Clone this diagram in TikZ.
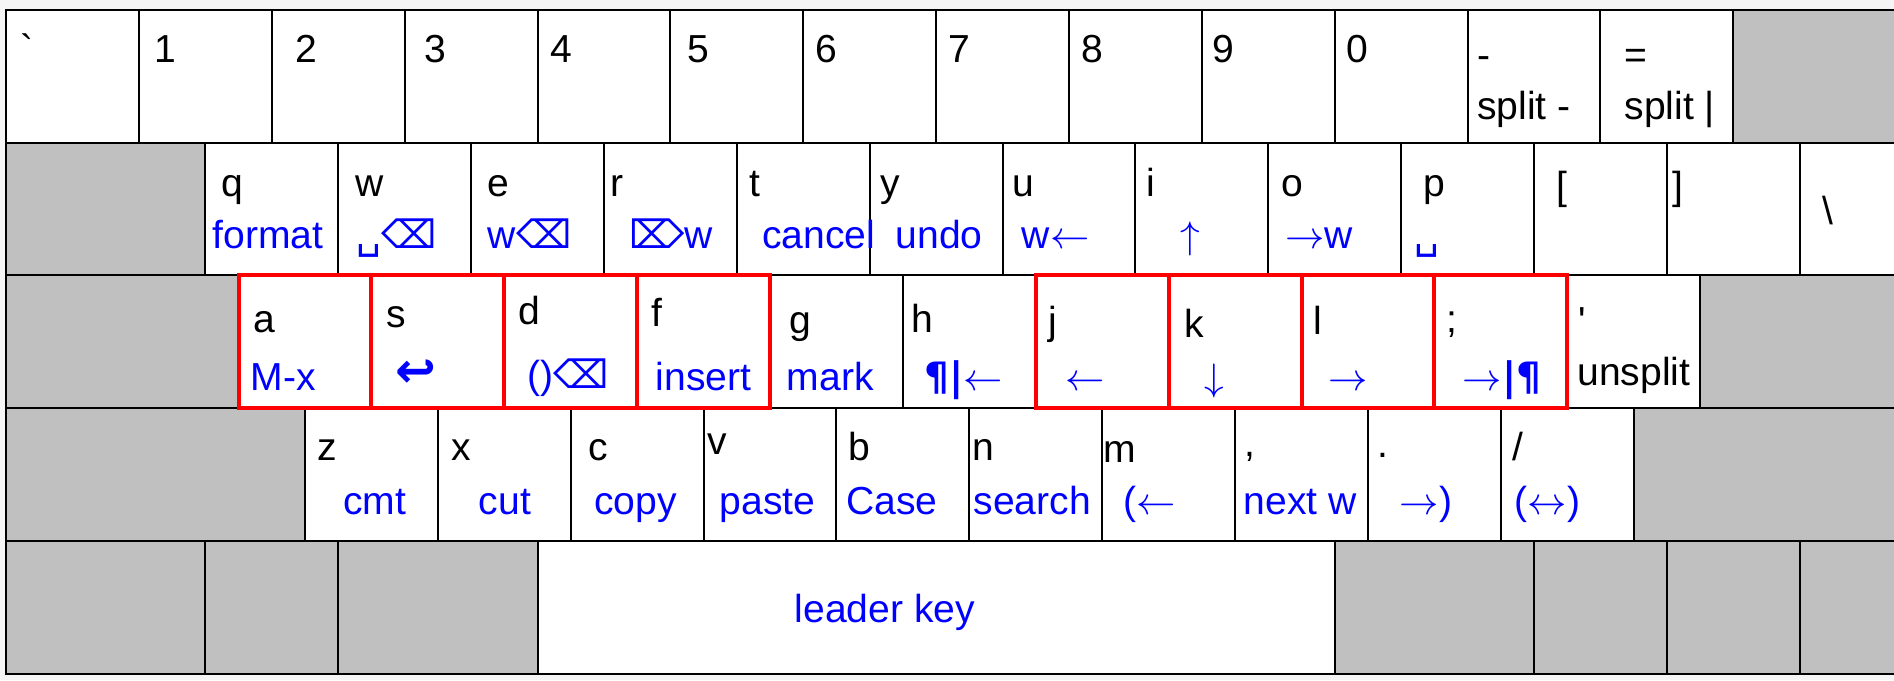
\documentclass[tikz,border=0pt]{standalone}
\usepackage{fontspec}
\newfontfamily\kf{Liberation Sans}
\newfontfamily\symf{DejaVu Sans}
\newfontfamily\pilf{DejaVu Sans Bold}
\usetikzlibrary{calc}
\definecolor{kblue}{RGB}{0,0,255}
\definecolor{kred}{RGB}{255,0,0}
\definecolor{kgrey}{RGB}{192,192,192}
\definecolor{kbg}{RGB}{245,245,245}
\newcommand\sy[1]{{\symf #1}}
\newcommand\pl[1]{{\pilf #1}}
\newcommand\kL{\ensuremath{\leftarrow}}
\newcommand\kR{\ensuremath{\rightarrow}}
\newcommand\kU{\ensuremath{\uparrow}}
\newcommand\kD{\ensuremath{\downarrow}}
\newcommand\kLR{\ensuremath{\leftrightarrow}}
\begin{document}
\begin{tikzpicture}[x=0.01cm,y=-0.01cm,
  keybox/.style={draw=black, line width=0.47pt, fill=white, inner sep=0pt, outer sep=0pt, anchor=north west, minimum height=1.1cm},
  deadkey/.style={keybox, fill=kgrey},
  kw/.style={minimum width={#1*0.01cm}},
  homeline/.style={draw=kred, line width=0.95pt},
  toplab/.style={anchor=base west, inner sep=0pt, outer sep=0pt, font=\kf\fontsize{9.2}{11}\selectfont, text=black},
  botlab/.style={toplab, text=kblue}]
\fill[kbg] (0,0) rectangle (1568,563);
\useasboundingbox (0,0) rectangle (1568,563);
\clip (0,0) rectangle (1568,563);
% ---------- row 1 ----------
\node[keybox,kw=110] (kgrave) at (5,8) {};
\node[keybox,kw=110] (k1) at (115,8) {};
\node[keybox,kw=110] (k2) at (225,8) {};
\node[keybox,kw=110] (k3) at (335,8) {};
\node[keybox,kw=110] (k4) at (445,8) {};
\node[keybox,kw=110] (k5) at (555,8) {};
\node[keybox,kw=110] (k6) at (665,8) {};
\node[keybox,kw=110] (k7) at (775,8) {};
\node[keybox,kw=110] (k8) at (885,8) {};
\node[keybox,kw=110] (k9) at (995,8) {};
\node[keybox,kw=110] (k0) at (1105,8) {};
\node[keybox,kw=110] (kminus) at (1215,8) {};
\node[keybox,kw=110] (kequal) at (1325,8) {};
\node[deadkey,kw=220] (kbksp) at (1435,8) {};
% ---------- row 2 ----------
\node[deadkey,kw=165] (ktab) at (5,118) {};
\node[keybox,kw=110] (kq) at (170,118) {};
\node[keybox,kw=110] (kw) at (280,118) {};
\node[keybox,kw=110] (ke) at (390,118) {};
\node[keybox,kw=110] (kr) at (500,118) {};
\node[keybox,kw=110] (kt) at (610,118) {};
\node[keybox,kw=110] (ky) at (720,118) {};
\node[keybox,kw=110] (ku) at (830,118) {};
\node[keybox,kw=110] (ki) at (940,118) {};
\node[keybox,kw=110] (ko) at (1050,118) {};
\node[keybox,kw=110] (kp) at (1160,118) {};
\node[keybox,kw=110] (klbr) at (1270,118) {};
\node[keybox,kw=110] (krbr) at (1380,118) {};
\node[keybox,kw=165] (kbsl) at (1490,118) {};
% ---------- row 3 ----------
\node[deadkey,kw=192.5] (kcaps) at (5,228) {};
\node[keybox,kw=110] (ka) at (197.5,228) {};
\node[keybox,kw=110] (ks) at (307.5,228) {};
\node[keybox,kw=110] (kd) at (417.5,228) {};
\node[keybox,kw=110] (kf) at (527.5,228) {};
\node[keybox,kw=110] (kg) at (637.5,228) {};
\node[keybox,kw=110] (kh) at (747.5,228) {};
\node[keybox,kw=110] (kj) at (857.5,228) {};
\node[keybox,kw=110] (kk) at (967.5,228) {};
\node[keybox,kw=110] (kl) at (1077.5,228) {};
\node[keybox,kw=110] (ksemi) at (1187.5,228) {};
\node[keybox,kw=110] (kquote) at (1297.5,228) {};
\node[deadkey,kw=247.5] (kenter) at (1407.5,228) {};
% ---------- row 4 ----------
\node[deadkey,kw=247.5] (klshift) at (5,338) {};
\node[keybox,kw=110] (kz) at (252.5,338) {};
\node[keybox,kw=110] (kx) at (362.5,338) {};
\node[keybox,kw=110] (kc) at (472.5,338) {};
\node[keybox,kw=110] (kv) at (582.5,338) {};
\node[keybox,kw=110] (kb) at (692.5,338) {};
\node[keybox,kw=110] (kn) at (802.5,338) {};
\node[keybox,kw=110] (km) at (912.5,338) {};
\node[keybox,kw=110] (kcomma) at (1022.5,338) {};
\node[keybox,kw=110] (kdot) at (1132.5,338) {};
\node[keybox,kw=110] (kslash) at (1242.5,338) {};
\node[deadkey,kw=302.5] (krshift) at (1352.5,338) {};
% ---------- row 5 ----------
\node[deadkey,kw=165] (kctl) at (5,448) {};
\node[deadkey,kw=110] (kwin) at (170,448) {};
\node[deadkey,kw=165] (kalt) at (280,448) {};
\node[keybox,kw=660] (kspace) at (445,448) {};
\node[deadkey,kw=165] (kaltgr) at (1105,448) {};
\node[deadkey,kw=110] (kwin2) at (1270,448) {};
\node[deadkey,kw=110] (kmenu) at (1380,448) {};
\node[deadkey,kw=165] (kctl2) at (1490,448) {};
% ---------- home keys ----------
\foreach \hk in {ka,ks,kd,kf,kj,kk,kl,ksemi}
  \draw[homeline] (\hk.north west) rectangle (\hk.south east);
% ---------- labels row 1 ----------
\node[toplab] (lgrave) at ($(kgrave.north west)+(12,44)$) {`};
\node[toplab] (l1) at ($(k1.north west)+(13,44)$) {1};
\node[toplab] (l2) at ($(k2.north west)+(19.5,44)$) {2};
\node[toplab] (l3) at ($(k3.north west)+(16.5,44)$) {3};
\node[toplab] (l4) at ($(k4.north west)+(11,44)$) {4};
\node[toplab] (l5) at ($(k5.north west)+(14,44)$) {5};
\node[toplab] (l6) at ($(k6.north west)+(10.5,44)$) {6};
\node[toplab] (l7) at ($(k7.north west)+(10,44)$) {7};
\node[toplab] (l8) at ($(k8.north west)+(10,44)$) {8};
\node[toplab] (l9) at ($(k9.north west)+(8.5,44)$) {9};
\node[toplab] (l0) at ($(k0.north west)+(9.5,44)$) {0};
\node[toplab] (lminus) at ($(kminus.north west)+(8,49)$) {-};
\node[toplab] (lminusb) at ($(kminus.north west)+(8,91)$) {split -};
\node[toplab] (lequal) at ($(kequal.north west)+(20,49)$) {=};
\node[toplab] (lequalb) at ($(kequal.north west)+(20,91)$) {split |};
% ---------- labels row 2 ----------
\node[toplab] (lq) at ($(kq.north west)+(13,45)$) {q};
\node[botlab] (lqb) at ($(kq.north west)+(6,88)$) {format};
\node[toplab] (lw) at ($(kw.north west)+(14,45)$) {w};
\node[botlab] (lwb) at ($(kw.north west)+(15,88)$) {\sy{␣⌫}};
\node[toplab] (le) at ($(ke.north west)+(14,45)$) {e};
\node[botlab] (leb) at ($(ke.north west)+(14,88)$) {w\sy{⌫}};
\node[toplab] (lr) at ($(kr.north west)+(5.5,45)$) {r};
\node[botlab] (lrb) at ($(kr.north west)+(21,88)$) {\sy{⌦}w};
\node[toplab] (lt) at ($(kt.north west)+(10.5,45)$) {t};
\node[botlab] (ltb) at ($(kt.north west)+(21,88)$) {cancel};
\node[toplab] (ly) at ($(ky.north west)+(9,45)$) {y};
\node[botlab] (lyb) at ($(ky.north west)+(21.5,88)$) {undo};
\node[toplab] (lu) at ($(ku.north west)+(8.5,45)$) {u};
\node[botlab] (lub) at ($(ku.north west)+(16,88)$) {w\kL};
\node[toplab] (li) at ($(ki.north west)+(9.5,45)$) {i};
\node[botlab] (lib) at ($(ki.north west)+(37,88)$) {\kU};
\node[toplab] (lo) at ($(ko.north west)+(11,45)$) {o};
\node[botlab] (lob) at ($(ko.north west)+(14,88)$) {\kR w};
\node[toplab] (lp) at ($(kp.north west)+(18.5,45)$) {p};
\node[botlab] (lpb) at ($(kp.north west)+(11,88)$) {\sy{␣}};
\node[toplab] (llbr) at ($(klbr.north west)+(19,47)$) {[};
\node[toplab] (lrbr) at ($(krbr.north west)+(5,47)$) {]};
\node[toplab] (lbsl) at ($(kbsl.north west)+(19,68)$) {\textbackslash};
% ---------- labels row 3 ----------
\node[toplab] (la) at ($(ka.north west)+(12.5,47)$) {a};
\node[botlab] (lab) at ($(ka.north west)+(10,95)$) {M-x};
\node[toplab] (ls) at ($(ks.north west)+(12.5,43)$) {s};
\node[botlab] (lsb) at ($(ks.north west)+(20,93)$) {{\pilf\fontsize{11.5}{12}\selectfont ↩}};
\node[toplab] (ld) at ($(kd.north west)+(12,41)$) {d};
\node[botlab] (ldb) at ($(kd.north west)+(19.5,94)$) {()\sy{⌫}};
\node[toplab] (lf) at ($(kf.north west)+(12,42.5)$) {f};
\node[botlab] (lfb) at ($(kf.north west)+(15.5,95)$) {insert};
\node[toplab] (lg) at ($(kg.north west)+(16.5,48)$) {g};
\node[botlab] (lgb) at ($(kg.north west)+(14,95)$) {mark};
\node[toplab] (lh) at ($(kh.north west)+(7.5,47)$) {h};
\node[botlab] (lhb) at ($(kh.north west)+(18,95)$) {\pl{¶|}\kL};
\node[toplab] (lj) at ($(kj.north west)+(10.5,49)$) {j};
\node[botlab] (ljb) at ($(kj.north west)+(24.5,95)$) {\kL};
\node[toplab] (lk) at ($(kk.north west)+(13.5,51)$) {k};
\node[botlab] (lkb) at ($(kk.north west)+(29.5,95)$) {\kD};
\node[toplab] (ll) at ($(kl.north west)+(9.5,49)$) {l};
\node[botlab] (llb) at ($(kl.north west)+(22.5,95)$) {\kR};
\node[toplab] (lsemi) at ($(ksemi.north west)+(10,47)$) {;};
\node[botlab] (lsemib) at ($(ksemi.north west)+(23.5,95)$) {\kR\pl{|¶}};
\node[toplab] (lquote) at ($(kquote.north west)+(9,49)$) {'};
\node[toplab] (lquoteb) at ($(kquote.north west)+(8.5,91)$) {unsplit};
% ---------- labels row 4 ----------
\node[toplab] (lz) at ($(kz.north west)+(10.5,43)$) {z};
\node[botlab] (lzb) at ($(kz.north west)+(31.5,88)$) {cmt};
\node[toplab] (lx) at ($(kx.north west)+(11.5,43)$) {x};
\node[botlab] (lxb) at ($(kx.north west)+(34,88)$) {cut};
\node[toplab] (lc) at ($(kc.north west)+(14.5,43)$) {c};
\node[botlab] (lcb) at ($(kc.north west)+(19.5,88)$) {copy};
\node[toplab] (lv) at ($(kv.north west)+(3.5,38.5)$) {v};
\node[botlab] (lvb) at ($(kv.north west)+(13.5,88)$) {paste};
\node[toplab] (lb) at ($(kb.north west)+(10,43)$) {b};
\node[botlab] (lbb) at ($(kb.north west)+(8,88)$) {Case};
\node[toplab] (ln) at ($(kn.north west)+(3,43)$) {n};
\node[botlab] (lnb) at ($(kn.north west)+(3.5,88)$) {search};
\node[toplab] (lm) at ($(km.north west)+(1,45)$) {m};
\node[botlab] (lmb) at ($(km.north west)+(17.5,88)$) {(\kL};
\node[toplab] (lcomma) at ($(kcomma.north west)+(7.5,40)$) {,};
\node[botlab] (lcommab) at ($(kcomma.north west)+(7,88)$) {next w};
\node[toplab] (ldot) at ($(kdot.north west)+(8,41)$) {.};
\node[botlab] (ldotb) at ($(kdot.north west)+(26.5,88)$) {\kR)};
\node[toplab] (lslash) at ($(kslash.north west)+(10,43)$) {/};
\node[botlab] (lslashb) at ($(kslash.north west)+(11.5,88)$) {(\kLR)};
% ---------- row 5 ----------
\node[botlab] (lspace) at ($(kspace.north west)+(213,67)$) {leader key};
\end{tikzpicture}
\end{document}
